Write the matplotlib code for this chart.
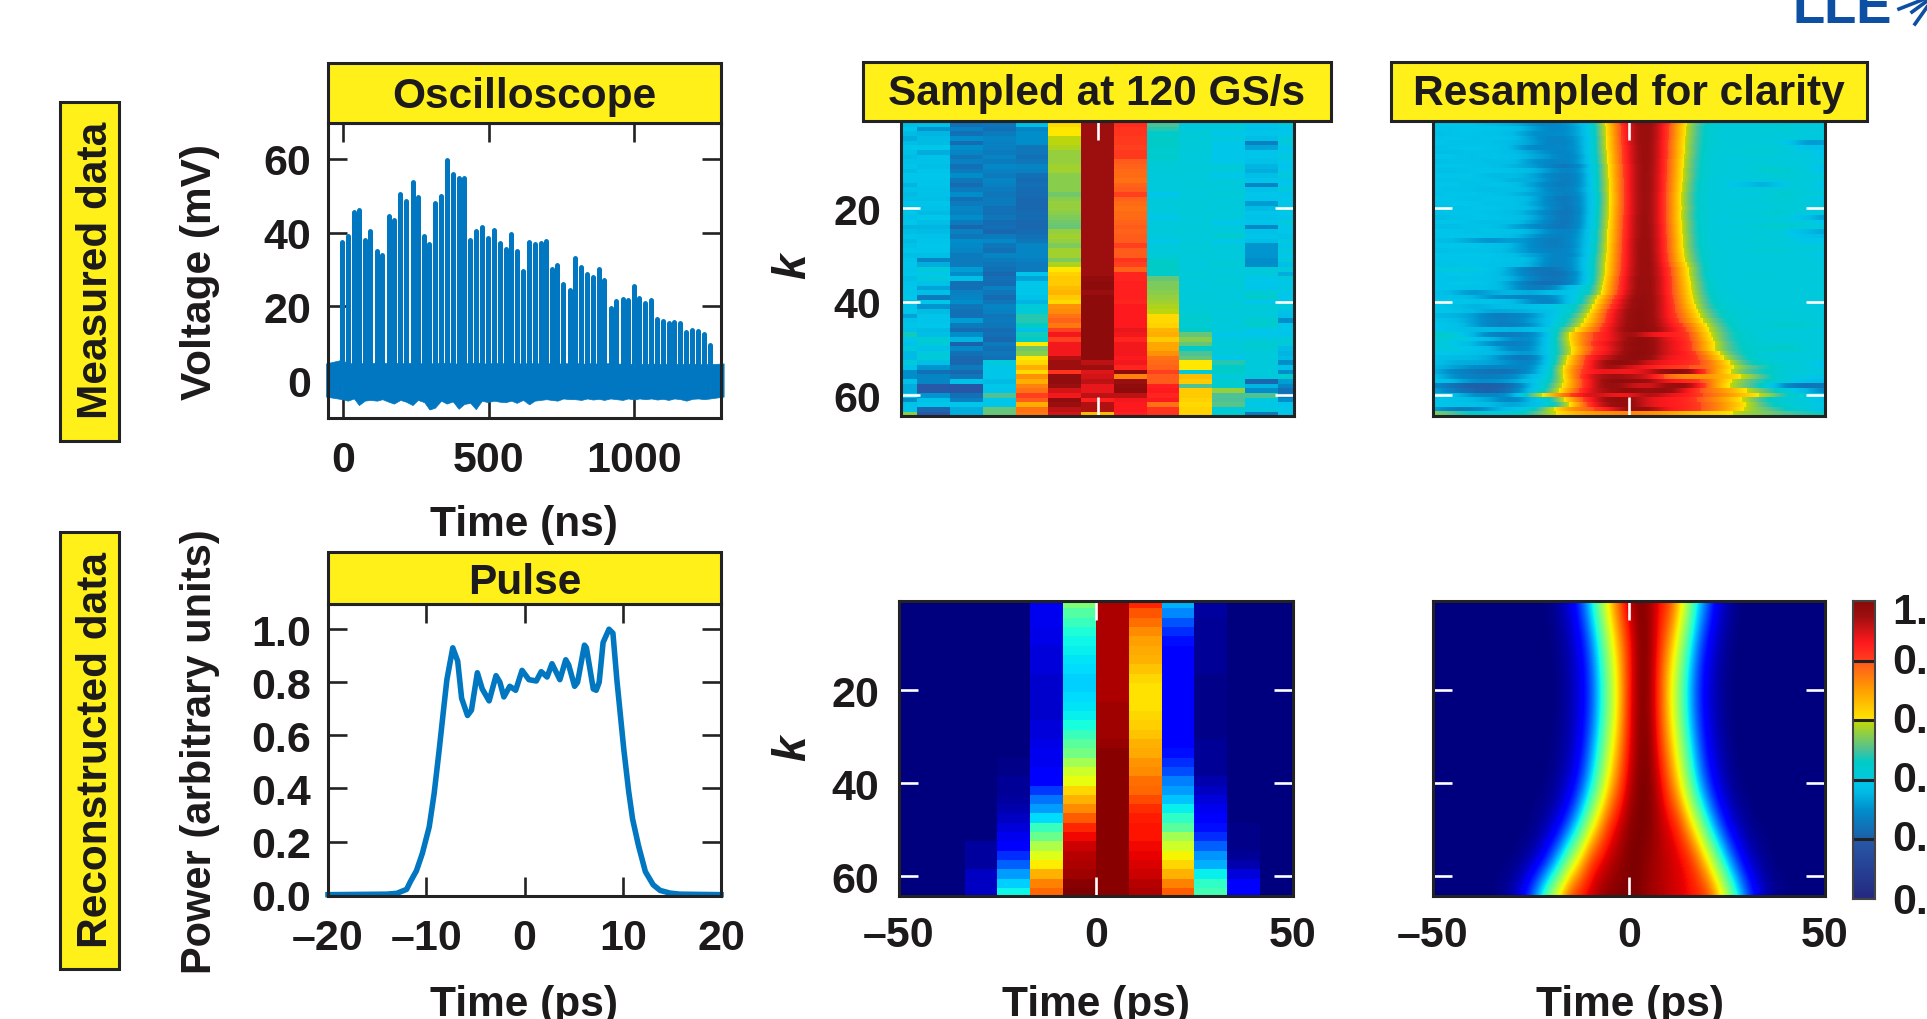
import matplotlib
matplotlib.use("Agg")
import matplotlib.pyplot as plt
from matplotlib.colors import LinearSegmentedColormap
from matplotlib.patches import Rectangle
from matplotlib.lines import Line2D
import numpy as np

W, H = 1927, 1020
plt.rcParams['font.family'] = ['Liberation Sans', 'DejaVu Sans']
plt.rcParams['font.weight'] = 'bold'
plt.rcParams['font.size'] = 30.5

# oscilloscope trace, one peak per k
spike_times = [-3, 17, 38, 55, 75, 93, 117, 135, 157, 175,
               197, 217, 239, 257, 279, 297, 316, 337, 356, 377,
               397, 416, 437, 456, 477, 497, 519, 539, 558, 578,
               596, 618, 639, 658, 678, 698, 716, 736, 756, 778,
               796, 818, 838, 858, 878, 896, 918, 938, 960, 978,
               1000, 1017, 1038, 1058, 1078, 1097, 1117, 1137, 1158, 1178,
               1199, 1219, 1239, 1259]
spike_peaks = [37.5, 39, 45.5, 46, 38, 40.5, 35, 34, 44.5, 43.5,
               50.5, 48.5, 53.8, 49.5, 39, 36.8, 48, 49.8, 59.7, 55.8,
               54.7, 54.8, 37.9, 40.3, 41.4, 38.4, 40.8, 37.2, 35.5, 39.7,
               35, 29.5, 37.5, 36.9, 37.2, 37.7, 30, 31.1, 26, 24.4,
               33, 30.6, 28.7, 28, 30, 27, 19.4, 21.5, 22, 21.6,
               25.6, 22.3, 21, 21.7, 16.5, 16, 15.5, 15.7, 15.5, 13,
               13.5, 13.2, 12.6, 9.5]
band_low = [-5.2, -5.6, -5.0, -6.8, -5.6, -5.4, -5.6, -5.2, -5.9, -6.4,
            -5.4, -5.9, -6.8, -5.4, -6.0, -8.0, -7.5, -5.6, -6.4, -5.8,
            -7.8, -6.5, -6.2, -7.9, -5.6, -6.0, -5.6, -5.9, -6.0, -5.6,
            -6.2, -5.4, -6.6, -5.6, -5.4, -5.2, -5.4, -5.6, -5.0, -5.2,
            -5.2, -5.4, -5.0, -5.3, -5.1, -5.4, -5.0, -5.2, -5.4, -5.0,
            -5.3, -5.0, -5.2, -5.0, -5.3, -5.1, -5.4, -5.0, -5.2, -5.6,
            -5.1, -5.0, -5.2, -5.0]
band_high = [5.5, 4.5, 4.6, 4.8, 4.4, 4.7, 4.5, 4.8, 4.4, 4.6,
             4.7, 4.4, 4.8, 4.5, 4.6, 4.4, 4.7, 4.5, 4.8, 4.6,
             4.4, 4.7, 4.5, 4.8, 4.6, 4.4, 4.7, 4.5, 4.6, 4.8,
             4.4, 4.6, 4.5, 4.7, 4.4, 4.6, 4.5, 4.4, 4.6, 4.5,
             4.7, 4.4, 4.5, 4.6, 4.4, 4.5, 4.6, 4.4, 4.5, 4.3,
             4.5, 4.4, 4.3, 4.5, 4.4, 4.3, 4.5, 4.4, 4.3, 4.4,
             4.5, 4.2, 4.4, 4.3]

# reconstructed pulse
pulse_t = [-20, -14, -13, -12, -11.6, -11, -10.4, -9.7, -9.2, -8.7, -8.2, -7.9, -7.3, -6.8,
           -6.4, -5.8, -5.4, -4.8, -4.3, -3.6, -2.9, -2.5, -2.1, -1.5, -0.9, -0.25, 0.45,
           1.2, 1.7, 2.3, 2.8, 3.6, 4.2, 4.5, 5.1, 5.4, 6.1, 6.3, 7, 7.3, 7.6, 8, 8.6, 9,
           9.4, 10.1, 10.6, 11, 11.6, 12.3, 13.1, 13.8, 14.8, 15.8, 20]
pulse_p = [0, 0.002, 0.005, 0.02, 0.05, 0.09, 0.155, 0.255, 0.38, 0.54, 0.71, 0.81, 0.93, 0.88,
           0.74, 0.675, 0.695, 0.836, 0.775, 0.73, 0.825, 0.80, 0.745, 0.785, 0.77, 0.845, 0.81,
           0.805, 0.84, 0.82, 0.87, 0.81, 0.885, 0.865, 0.785, 0.80, 0.94, 0.93, 0.775, 0.77, 0.80, 0.95, 1.0, 0.985,
           0.81, 0.55, 0.39, 0.285, 0.185, 0.087, 0.037, 0.016, 0.006, 0.002, 0]

# measured, 120 GS/s: rows k=1..64, percent
sampled_t = [-50, -41.67, -33.33, -25, -16.67, -8.33, 0, 8.33, 16.67, 25, 33.33, 41.67, 50]
sampled = [
    [39, 40, 26, 27, 39, 62, 95, 83, 50, 41, 41, 39, 40],
    [37, 38, 24, 25, 37, 62, 95, 83, 50, 41, 41, 39, 41],
    [40, 31, 27, 24, 28, 60, 95, 82, 48, 41, 41, 38, 39],
    [36, 35, 24, 26, 30, 60, 95, 82, 45, 42, 40, 39, 40],
    [34, 36, 30, 28, 30, 59, 95, 81, 46, 42, 41, 37, 41],
    [37, 36, 23, 27, 30, 59, 95, 81, 46, 42, 40, 27, 41],
    [40, 40, 30, 27, 25, 58, 95, 80, 45, 42, 40, 33, 39],
    [38, 34, 28, 26, 25, 56, 95, 81, 44, 41, 40, 39, 40],
    [36, 38, 25, 28, 24, 56, 95, 81, 45, 41, 40, 39, 41],
    [38, 38, 27, 26, 25, 56, 95, 79, 43, 41, 40, 38, 40],
    [39, 37, 24, 29, 28, 57, 95, 78, 42, 42, 42, 35, 39],
    [36, 39, 26, 27, 27, 57, 95, 77, 42, 41, 41, 34, 40],
    [40, 40, 30, 26, 24, 55, 95, 77, 41, 41, 40, 37, 41],
    [39, 39, 25, 28, 23, 55, 95, 76, 41, 41, 41, 39, 39],
    [35, 39, 23, 27, 24, 55, 95, 78, 41, 42, 41, 28, 40],
    [38, 38, 26, 26, 23, 55, 95, 79, 41, 41, 41, 38, 41],
    [36, 38, 30, 25, 23, 53, 95, 80, 40, 41, 42, 40, 39],
    [37, 37, 24, 26, 22, 55, 95, 78, 41, 41, 41, 39, 40],
    [39, 39, 26, 26, 22, 56, 95, 77, 41, 42, 41, 32, 40],
    [37, 38, 28, 24, 22, 56, 95, 76, 41, 41, 41, 36, 41],
    [40, 36, 27, 24, 23, 55, 95, 77, 41, 42, 41, 39, 40],
    [38, 40, 30, 25, 23, 54, 95, 77, 40, 41, 41, 38, 39],
    [40, 37, 26, 23, 22, 53, 95, 78, 41, 41, 40, 39, 41],
    [35, 35, 22, 24, 22, 52, 95, 79, 41, 42, 41, 29, 40],
    [37, 36, 27, 22, 23, 56, 95, 78, 41, 41, 41, 38, 40],
    [39, 38, 25, 26, 24, 57, 95, 79, 41, 41, 44, 39, 38],
    [36, 39, 30, 29, 25, 56, 95, 79, 40, 41, 40, 37, 41],
    [38, 40, 29, 25, 28, 54, 95, 80, 41, 42, 41, 31, 39],
    [40, 39, 28, 24, 28, 57, 95, 79, 41, 42, 41, 31, 41],
    [37, 37, 26, 28, 28, 57, 95, 79, 42, 41, 41, 31, 40],
    [39, 28, 26, 26, 27, 54, 95, 82, 45, 41, 41, 30, 41],
    [40, 34, 26, 25, 26, 58, 95, 80, 46, 41, 43, 30, 37],
    [39, 41, 32, 24, 26, 60, 95, 78, 46, 41, 41, 41, 41],
    [40, 40, 30, 22, 39, 63, 95, 84, 45, 42, 41, 41, 34],
    [37, 41, 37, 24, 33, 64, 98, 84, 52, 41, 42, 40, 41],
    [39, 38, 24, 23, 40, 64, 99, 85, 54, 41, 42, 40, 40],
    [40, 33, 24, 27, 40, 66, 99, 85, 54, 41, 41, 39, 41],
    [39, 37, 27, 25, 40, 67, 96, 85, 55, 41, 41, 43, 40],
    [40, 26, 28, 23, 38, 64, 99, 85, 56, 42, 41, 44, 40],
    [36, 40, 30, 25, 35, 62, 99, 84, 57, 41, 41, 40, 39],
    [39, 31, 25, 28, 42, 72, 99, 86, 58, 42, 42, 42, 41],
    [40, 36, 24, 27, 42, 73, 99, 86, 59, 42, 41, 41, 38],
    [33, 39, 24, 25, 48, 76, 99, 86, 62, 44, 41, 41, 37],
    [38, 39, 32, 26, 48, 78, 99, 86, 62, 44, 41, 44, 30],
    [39, 40, 26, 25, 46, 75, 99, 86, 63, 43, 41, 44, 40],
    [38, 36, 23, 23, 38, 80, 99, 88, 67, 46, 41, 40, 40],
    [47, 37, 30, 24, 47, 87, 99, 87, 68, 52, 40, 40, 39],
    [40, 43, 35, 22, 45, 80, 99, 84, 64, 55, 41, 41, 42],
    [38, 42, 21, 26, 60, 87, 99, 87, 69, 52, 42, 44, 41],
    [41, 38, 29, 24, 53, 87, 99, 87, 69, 46, 41, 43, 36],
    [36, 41, 24, 25, 55, 87, 99, 87, 72, 50, 41, 41, 35],
    [36, 42, 22, 24, 60, 93, 99, 86, 76, 52, 40, 41, 36],
    [41, 37, 22, 41, 62, 95, 92, 87, 77, 60, 48, 41, 30],
    [38, 31, 26, 40, 68, 95, 95, 84, 78, 60, 45, 41, 38],
    [30, 24, 22, 40, 62, 82, 89, 99, 80, 41, 46, 41, 30],
    [30, 28, 25, 40, 72, 98, 90, 74, 79, 66, 41, 41, 44],
    [38, 28, 38, 36, 68, 98, 92, 96, 79, 64, 44, 22, 32],
    [34, 20, 19, 40, 74, 96, 88, 98, 85, 50, 44, 35, 28],
    [34, 20, 19, 39, 76, 90, 88, 99, 86, 64, 56, 30, 24],
    [40, 31, 24, 50, 80, 87, 92, 92, 84, 64, 50, 50, 26],
    [30, 38, 27, 40, 79, 98, 85, 87, 86, 63, 50, 41, 30],
    [38, 40, 40, 40, 68, 96, 93, 86, 76, 62, 51, 40, 39],
    [39, 22, 34, 52, 76, 92, 93, 86, 82, 63, 42, 41, 40],
    [55, 20, 34, 52, 75, 90, 66, 85, 82, 63, 44, 26, 40],
]

# measured, resampled: rows k=1..64, percent
resampled_t = [-50, -45, -40, -35, -30, -25, -20, -15, -10, -5, 0, 5, 10, 15, 20, 25, 30, 35, 40, 45, 50]
resampled = [
    [40, 40, 39, 38, 33, 28, 29, 32, 39, 66, 92, 100, 83, 58, 44, 42, 43, 44, 45, 41, 40],
    [39, 40, 40, 36, 35, 31, 27, 31, 39, 66, 92, 100, 83, 57, 44, 42, 42, 43, 44, 41, 41],
    [39, 38, 40, 39, 38, 33, 28, 30, 38, 65, 91, 100, 82, 56, 43, 42, 41, 42, 43, 41, 40],
    [36, 39, 39, 38, 37, 30, 29, 30, 38, 65, 91, 100, 82, 56, 43, 41, 42, 41, 42, 40, 41],
    [38, 40, 38, 39, 38, 32, 27, 29, 37, 64, 91, 100, 82, 55, 43, 41, 42, 41, 41, 41, 41],
    [40, 38, 38, 38, 36, 33, 27, 28, 38, 64, 91, 100, 81, 55, 43, 42, 41, 41, 41, 30, 33],
    [37, 39, 39, 39, 36, 28, 29, 28, 37, 64, 90, 100, 81, 54, 43, 41, 42, 43, 42, 38, 38],
    [38, 36, 39, 38, 37, 33, 29, 27, 38, 63, 90, 100, 81, 55, 42, 42, 42, 43, 41, 40, 40],
    [40, 39, 37, 39, 38, 34, 31, 26, 37, 62, 90, 100, 81, 54, 42, 41, 41, 42, 40, 41, 39],
    [37, 38, 39, 36, 38, 31, 28, 27, 37, 62, 90, 100, 80, 53, 42, 41, 42, 41, 41, 40, 41],
    [39, 40, 38, 38, 35, 33, 27, 24, 35, 61, 89, 100, 80, 53, 42, 41, 41, 44, 41, 41, 38],
    [38, 37, 39, 39, 38, 36, 31, 26, 36, 61, 89, 100, 80, 52, 42, 42, 41, 45, 44, 41, 39],
    [40, 39, 40, 35, 37, 34, 28, 25, 35, 61, 89, 100, 79, 53, 41, 41, 41, 41, 44, 41, 40],
    [38, 38, 39, 38, 34, 35, 29, 24, 36, 60, 89, 100, 79, 52, 41, 41, 41, 40, 42, 41, 41],
    [39, 40, 37, 39, 38, 33, 27, 25, 35, 60, 89, 100, 79, 51, 41, 41, 37, 33, 41, 41, 39],
    [39, 38, 38, 36, 38, 35, 28, 26, 36, 60, 89, 100, 79, 51, 41, 41, 41, 41, 44, 41, 40],
    [37, 40, 39, 38, 36, 33, 30, 25, 35, 59, 89, 100, 78, 50, 41, 41, 40, 41, 45, 41, 41],
    [40, 39, 38, 39, 38, 36, 27, 24, 35, 59, 89, 100, 78, 50, 41, 41, 41, 42, 44, 40, 40],
    [38, 40, 40, 37, 39, 34, 28, 24, 35, 59, 89, 100, 78, 50, 41, 41, 42, 41, 43, 41, 41],
    [39, 38, 39, 39, 38, 36, 29, 23, 35, 60, 89, 100, 78, 51, 41, 41, 41, 41, 42, 41, 40],
    [38, 39, 40, 38, 37, 33, 27, 23, 35, 60, 89, 100, 78, 50, 41, 41, 42, 43, 44, 40, 41],
    [35, 38, 39, 39, 38, 35, 28, 23, 36, 60, 90, 100, 78, 50, 41, 41, 41, 41, 41, 38, 31],
    [39, 40, 38, 36, 38, 33, 27, 23, 36, 61, 90, 100, 78, 51, 41, 40, 41, 42, 42, 41, 39],
    [38, 36, 39, 38, 34, 30, 26, 24, 36, 61, 90, 100, 79, 51, 41, 41, 42, 44, 45, 41, 41],
    [40, 39, 38, 39, 38, 35, 29, 26, 37, 62, 90, 100, 79, 51, 41, 41, 41, 41, 41, 36, 33],
    [39, 40, 39, 38, 37, 32, 27, 27, 37, 62, 90, 100, 79, 52, 41, 41, 41, 41, 41, 38, 36],
    [38, 36, 33, 30, 33, 30, 25, 28, 37, 62, 91, 100, 80, 52, 41, 41, 42, 43, 41, 39, 40],
    [39, 40, 39, 38, 36, 29, 26, 27, 38, 63, 91, 100, 80, 52, 41, 41, 41, 41, 41, 41, 40],
    [37, 38, 38, 38, 35, 30, 27, 28, 38, 63, 91, 100, 80, 53, 42, 41, 42, 44, 42, 41, 41],
    [40, 39, 40, 39, 37, 33, 29, 26, 39, 64, 91, 100, 81, 54, 42, 41, 41, 41, 41, 40, 40],
    [38, 40, 39, 39, 38, 36, 27, 28, 40, 64, 91, 100, 81, 55, 42, 41, 41, 42, 41, 41, 41],
    [39, 38, 40, 38, 38, 35, 27, 28, 40, 65, 91, 100, 82, 58, 42, 41, 41, 41, 41, 41, 40],
    [40, 41, 41, 39, 33, 25, 24, 28, 40, 65, 92, 99, 84, 60, 42, 41, 41, 41, 41, 41, 41],
    [39, 40, 40, 38, 33, 26, 24, 25, 40, 66, 92, 99, 84, 60, 42, 41, 42, 42, 41, 41, 40],
    [40, 38, 39, 38, 35, 28, 24, 26, 40, 68, 93, 99, 85, 61, 43, 41, 41, 42, 41, 41, 41],
    [39, 40, 40, 38, 32, 24, 23, 26, 41, 69, 93, 99, 85, 62, 44, 41, 41, 41, 41, 41, 41],
    [40, 39, 38, 38, 33, 25, 27, 38, 42, 70, 93, 99, 85, 63, 44, 41, 41, 41, 41, 41, 40],
    [38, 36, 30, 34, 36, 33, 37, 38, 44, 71, 94, 99, 85, 64, 45, 41, 42, 41, 41, 41, 41],
    [38, 38, 36, 30, 29, 27, 28, 38, 50, 75, 95, 99, 86, 65, 46, 42, 41, 41, 41, 41, 41],
    [40, 40, 38, 39, 37, 30, 26, 38, 52, 78, 96, 99, 86, 66, 47, 42, 41, 41, 41, 41, 41],
    [40, 38, 34, 36, 37, 37, 40, 42, 55, 81, 96, 99, 86, 68, 48, 43, 41, 41, 41, 41, 40],
    [40, 39, 36, 33, 34, 35, 38, 42, 58, 84, 97, 99, 86, 70, 50, 44, 42, 42, 43, 41, 40],
    [36, 35, 33, 26, 27, 30, 38, 45, 62, 85, 97, 99, 86, 72, 52, 44, 42, 42, 41, 41, 41],
    [39, 37, 33, 27, 27, 32, 38, 48, 64, 86, 97, 99, 87, 74, 55, 45, 42, 42, 43, 42, 41],
    [40, 39, 33, 27, 26, 30, 38, 50, 68, 87, 97, 99, 88, 78, 58, 46, 42, 43, 46, 45, 41],
    [40, 38, 36, 36, 35, 36, 40, 56, 72, 88, 98, 99, 90, 80, 60, 47, 43, 42, 41, 41, 41],
    [47, 42, 36, 27, 26, 28, 38, 62, 80, 86, 98, 88, 85, 84, 62, 48, 44, 41, 41, 41, 41],
    [42, 42, 40, 36, 30, 28, 40, 62, 80, 86, 97, 99, 87, 84, 64, 48, 44, 42, 41, 41, 41],
    [42, 40, 36, 30, 26, 28, 40, 60, 82, 88, 98, 99, 88, 85, 66, 50, 44, 42, 44, 41, 41],
    [40, 41, 39, 36, 28, 29, 41, 58, 80, 87, 98, 99, 88, 85, 66, 50, 45, 44, 47, 42, 40],
    [40, 40, 38, 36, 33, 30, 40, 58, 82, 88, 99, 99, 88, 86, 72, 52, 45, 42, 41, 41, 41],
    [38, 36, 36, 34, 26, 24, 40, 64, 86, 92, 99, 98, 86, 86, 75, 56, 46, 42, 41, 41, 41],
    [38, 34, 34, 33, 30, 26, 40, 66, 86, 98, 99, 90, 86, 84, 78, 62, 47, 44, 42, 41, 39],
    [36, 33, 30, 28, 28, 28, 42, 70, 86, 98, 90, 86, 82, 80, 78, 64, 52, 47, 43, 41, 39],
    [36, 28, 26, 24, 24, 30, 42, 72, 87, 88, 86, 90, 99, 99, 78, 62, 50, 46, 42, 41, 41],
    [38, 30, 27, 26, 28, 36, 42, 70, 90, 96, 94, 90, 76, 72, 72, 66, 58, 48, 42, 40, 39],
    [40, 36, 30, 30, 32, 38, 44, 68, 88, 99, 98, 96, 86, 84, 78, 62, 52, 46, 41, 38, 36],
    [30, 24, 20, 20, 22, 36, 48, 68, 88, 99, 92, 88, 97, 97, 78, 60, 52, 44, 28, 24, 26],
    [34, 26, 22, 20, 24, 38, 50, 72, 90, 95, 99, 95, 99, 86, 76, 70, 60, 50, 42, 36, 28],
    [40, 38, 30, 28, 30, 52, 66, 80, 92, 88, 86, 96, 88, 86, 78, 72, 64, 58, 46, 42, 38],
    [40, 38, 36, 33, 26, 36, 44, 68, 86, 98, 98, 88, 86, 84, 76, 68, 58, 46, 42, 41, 38],
    [40, 39, 38, 36, 32, 36, 42, 60, 84, 96, 99, 88, 86, 84, 78, 70, 60, 48, 43, 41, 40],
    [34, 26, 26, 33, 38, 42, 58, 72, 78, 86, 98, 97, 86, 84, 78, 70, 58, 52, 46, 41, 38],
    [55, 50, 45, 42, 42, 48, 58, 66, 70, 72, 74, 72, 70, 66, 64, 62, 56, 54, 50, 48, 46],
]

# reconstructed, 120 GS/s: rows k=1,3,..,63, percent
recon_t = [-45.83, -37.5, -29.17, -20.83, -12.5, -4.17, 4.17, 12.5, 20.83, 29.17, 37.5, 45.83]
recon = [
    [0, 0, 0, 0, 10, 50, 96, 87, 30, 3, 0, 0],
    [0, 0, 0, 0, 10, 45, 96, 82, 26, 3, 0, 0],
    [0, 0, 0, 0, 10, 42, 96, 79, 21, 2, 0, 0],
    [0, 0, 0, 0, 9, 39, 96, 76, 17, 2, 0, 0],
    [0, 0, 0, 0, 9, 37, 96, 74, 14, 2, 0, 0],
    [0, 0, 0, 0, 8, 36, 96, 73, 12, 2, 0, 0],
    [0, 0, 0, 0, 8, 35, 96, 72, 11, 2, 0, 0],
    [0, 0, 0, 0, 8, 34, 96, 70, 11, 2, 0, 0],
    [0, 0, 0, 0, 7, 33, 96, 68, 11, 1, 0, 0],
    [0, 0, 0, 0, 7, 33, 96, 67, 11, 1, 0, 0],
    [0, 0, 0, 0, 7, 34, 96, 67, 11, 1, 0, 0],
    [0, 0, 0, 0, 7, 35, 97, 67, 11, 1, 0, 0],
    [0, 0, 0, 0, 7, 36, 97, 68, 11, 1, 0, 0],
    [0, 0, 0, 0, 8, 38, 97, 69, 11, 1, 0, 0],
    [0, 0, 0, 0, 8, 42, 97, 70, 11, 1, 0, 0],
    [0, 0, 0, 0, 9, 46, 98, 72, 12, 2, 0, 0],
    [0, 0, 0, 0, 10, 49, 99, 73, 14, 2, 0, 0],
    [0, 0, 0, 1, 10, 55, 99, 75, 17, 2, 0, 0],
    [0, 0, 0, 1, 11, 60, 99, 76, 20, 2, 0, 0],
    [0, 0, 0, 2, 12, 63, 99, 79, 25, 4, 0, 0],
    [0, 0, 0, 2, 18, 68, 99, 80, 28, 6, 0, 0],
    [0, 0, 0, 3, 24, 72, 99, 83, 32, 8, 0, 0],
    [0, 0, 0, 4, 28, 76, 99, 86, 36, 10, 0, 0],
    [0, 0, 0, 6, 34, 81, 99, 88, 41, 11, 0, 0],
    [0, 0, 0, 8, 42, 87, 99, 89, 46, 14, 1, 0],
    [0, 0, 0, 10, 48, 90, 99, 89, 55, 17, 1, 0],
    [0, 0, 3, 11, 56, 93, 99, 90, 60, 22, 1, 0],
    [0, 0, 3, 17, 62, 95, 99, 91, 65, 27, 2, 0],
    [0, 0, 3, 22, 66, 96, 99, 92, 68, 30, 4, 0],
    [0, 0, 6, 28, 72, 97, 99, 93, 72, 36, 8, 0],
    [0, 0, 6, 33, 77, 99, 99, 95, 77, 41, 11, 0],
    [0, 0, 6, 37, 80, 100, 99, 96, 81, 43, 11, 0],
]

# reconstructed, resampled: profile at every 2.5 ps for k=1,9,..,65, percent
smooth_k = [1, 9, 17, 25, 33, 41, 49, 57, 65]
smooth_t = [-50, -47.5, -45, -42.5, -40, -37.5, -35, -32.5, -30, -27.5, -25, -22.5, -20, -17.5, -15, -12.5, -10, -7.5, -5, -2.5,
            0, 2.5, 5, 7.5, 10, 12.5, 15, 17.5, 20, 22.5, 25, 27.5, 30, 32.5, 35, 37.5, 40, 42.5, 45, 47.5, 50]
smooth = [
    [0, 0, 0, 0, 0, 0, 0, 0, 0, 0, 0, 0, 1, 4, 9, 19, 34, 52, 69, 82, 95, 100, 98, 90, 86, 73, 57, 37, 24, 10, 5, 1, 0, 0, 0, 0, 0, 0, 0, 0, 0],
    [0, 0, 0, 0, 0, 0, 0, 0, 0, 0, 0, 0, 0, 2, 5, 11, 23, 40, 59, 74, 87, 99, 99, 89, 77, 63, 44, 26, 13, 6, 2, 0, 0, 0, 0, 0, 0, 0, 0, 0, 0],
    [0, 0, 0, 0, 0, 0, 0, 0, 0, 0, 0, 0, 0, 1, 4, 9, 18, 34, 53, 69, 87, 99, 99, 86, 70, 54, 35, 19, 9, 4, 1, 0, 0, 0, 0, 0, 0, 0, 0, 0, 0],
    [0, 0, 0, 0, 0, 0, 0, 0, 0, 0, 0, 0, 0, 1, 4, 9, 18, 34, 53, 69, 88, 99, 99, 86, 70, 54, 35, 19, 9, 4, 1, 0, 0, 0, 0, 0, 0, 0, 0, 0, 0],
    [0, 0, 0, 0, 0, 0, 0, 0, 0, 0, 0, 0, 0, 2, 5, 11, 24, 41, 60, 75, 90, 99, 100, 89, 76, 61, 43, 25, 12, 6, 2, 0, 0, 0, 0, 0, 0, 0, 0, 0, 0],
    [0, 0, 0, 0, 0, 0, 0, 0, 0, 0, 0, 0, 1, 4, 8, 18, 33, 52, 69, 82, 94, 100, 100, 94, 83, 70, 53, 34, 19, 9, 4, 1, 0, 0, 0, 0, 0, 0, 0, 0, 0],
    [0, 0, 0, 0, 0, 0, 0, 0, 0, 0, 0, 2, 5, 10, 22, 38, 58, 73, 86, 93, 99, 100, 100, 96, 92, 87, 74, 59, 40, 23, 11, 5, 2, 0, 0, 0, 0, 0, 0, 0, 0],
    [0, 0, 0, 0, 0, 0, 0, 0, 0, 1, 4, 9, 20, 37, 56, 71, 85, 91, 95, 98, 100, 100, 98, 96, 94, 92, 90, 82, 69, 52, 33, 18, 8, 4, 1, 0, 0, 0, 0, 0, 0],
    [0, 0, 0, 0, 0, 0, 0, 2, 5, 12, 24, 42, 61, 75, 88, 91, 94, 98, 100, 100, 100, 100, 97, 96, 94, 92, 90, 89, 87, 77, 63, 44, 26, 13, 6, 2, 1, 0, 0, 0, 0],
]

colorbar_ticks = [0.0, 0.2, 0.4, 0.6, 0.8, 1.0]
time_ticks = [-50, 0, 50]
k_ticks = [20, 40, 60]

# measured data colour scale, with jumps at the colorbar divisions
measured_cmap = LinearSegmentedColormap('measured', {
    'red': [(0, 0.14, 0.14), (0.2, 0.16, 0.12), (0.3, 0.0, 0.0), (0.36, 0.0, 0.0), (0.4, 0.0, 0.0), (0.46, 0.0, 0.0), (0.5, 0.30, 0.30),
            (0.6, 0.78, 1.0), (0.7, 1.0, 1.0), (0.8, 1.0, 1.0), (0.86, 1.0, 1.0), (0.95, 0.62, 0.62), (1, 0.54, 0.54)],
    'green': [(0, 0.16, 0.16), (0.2, 0.35, 0.37), (0.3, 0.56, 0.56), (0.36, 0.74, 0.74), (0.4, 0.78, 0.79), (0.46, 0.80, 0.80), (0.5, 0.76, 0.76),
              (0.6, 0.85, 0.91), (0.7, 0.63, 0.63), (0.8, 0.33, 0.25), (0.86, 0.10, 0.10), (0.95, 0.06, 0.06), (1, 0.04, 0.04)],
    'blue': [(0, 0.5, 0.5), (0.2, 0.66, 0.66), (0.3, 0.8, 0.8), (0.36, 0.90, 0.90), (0.4, 0.92, 0.88), (0.46, 0.78, 0.78), (0.5, 0.60, 0.60),
             (0.6, 0.0, 0.0), (0.7, 0.0, 0.0), (0.8, 0.12, 0.12), (0.86, 0.12, 0.12), (0.95, 0.06, 0.06), (1, 0.04, 0.04)],
}, N=512)


def box(x0, y0, x1, y1):
    return [x0 / W, 1 - y1 / H, (x1 - x0) / W, (y1 - y0) / H]


def label_box(fig, x0, y0, x1, y1, text, rotation=0, dx=0, dy=0):
    fig.add_artist(Rectangle((x0 / W, 1 - y1 / H), (x1 - x0) / W, (y1 - y0) / H,
                             transform=fig.transFigure, fc='#fff01a', ec='#222222', lw=2.2, zorder=5))
    fig.text(((x0 + x1) / 2 + dx) / W, 1 - ((y0 + y1) / 2 + dy) / H, text, ha='center', va='center',
             rotation=rotation, color='#1c1a1a', zorder=6)


def setup_line_axes(ax):
    ax.tick_params(direction='in', length=14, width=1.9, color='#222222', top=True, right=True,
                   labelsize=31, labelcolor='#1c1a1a')
    for s in ax.spines.values():
        s.set_linewidth(2.2)
        s.set_color('#222222')


def setup_map_axes(ax, ylim, bottom_labels):
    ax.set_xlim(-50, 50)
    ax.set_ylim(*ylim)
    ax.set_xticks(time_ticks)
    ax.set_yticks(k_ticks)
    ax.tick_params(direction='in', length=14, width=1.9, color='white', top=True, right=True,
                   labelsize=31, labelcolor='#1c1a1a', pad=14)
    ax.set_xticklabels(['\u201350', '0', '50'] if bottom_labels else [])
    # the ticks at the plot edges are not drawn
    for i in (0, 2):
        t = ax.xaxis.get_major_ticks()[i]
        t.tick1line.set_visible(False)
        t.tick2line.set_visible(False)
    for s in ax.spines.values():
        s.set_linewidth(2.2)
        s.set_color('#222222')


fig = plt.figure(figsize=(W / 100, H / 100), dpi=100)

# oscilloscope
ax = fig.add_axes(box(328, 124, 721, 419))
ax.fill_between(spike_times, band_low, band_high, color='#0077c0', lw=0.5, clip_on=False, zorder=2)
ax.fill_between([-58, -3], [-4.5, band_low[0]], [4.5, band_high[0]], color='#0077c0', lw=0.5, clip_on=False, zorder=2)
ax.fill_between([1259, 1306], [band_low[-1], -4.5], [band_high[-1], 4.5], color='#0077c0', lw=0.5, clip_on=False, zorder=2)
ax.vlines(spike_times, 0, spike_peaks, color='#0077c0', lw=3.6, capstyle='round', zorder=2)
ax.set_xlim(-51, 1297)
ax.set_ylim(-10.3, 69.7)
ax.set_xticks([0, 500, 1000])
ax.set_yticks([0, 20, 40, 60])
setup_line_axes(ax)
ax.tick_params(axis='x', pad=16)
ax.tick_params(axis='y', pad=12)

# pulse
ax = fig.add_axes(box(328, 605, 721, 897))
ax.plot(pulse_t, pulse_p, color='#0077c0', lw=4, clip_on=False, solid_joinstyle='round', zorder=2)
ax.set_xlim(-20, 20)
ax.set_ylim(-0.005, 1.095)
ax.set_xticks([-20, -10, 0, 10, 20])
ax.set_xticklabels(['\u201320', '\u201310', '0', '10', '20'])
ax.set_yticks([0, 0.2, 0.4, 0.6, 0.8, 1.0])
setup_line_axes(ax)
ax.tick_params(axis='x', pad=16)
ax.tick_params(axis='y', pad=12)

# measured maps
ax = fig.add_axes(box(901, 122, 1294, 417))
ax.imshow(np.array(sampled) / 100, cmap=measured_cmap, vmin=0, vmax=1, aspect='auto', interpolation='nearest',
          extent=(sampled_t[0] - 4.165, sampled_t[-1] + 4.165, len(sampled) + 0.5, 0.5))
setup_map_axes(ax, (64.4, 1.3), False)

ax = fig.add_axes(box(1433, 122, 1825, 417))
for i, row in enumerate(resampled):
    ax.imshow(np.array([row]) / 100, cmap=measured_cmap, vmin=0, vmax=1, aspect='auto', interpolation='bicubic',
              extent=(resampled_t[0] - 2.5, resampled_t[-1] + 2.5, i + 1.5, i + 0.5))
setup_map_axes(ax, (64.4, 1.3), False)
ax.set_yticklabels([])

# reconstructed maps
ax = fig.add_axes(box(899, 602, 1293, 897))
ax.imshow(np.array(recon) / 100, cmap='jet', vmin=0, vmax=1, aspect='auto', interpolation='nearest',
          extent=(-50, 50, 64.5, 0.5))
setup_map_axes(ax, (64.2, 0.9), True)

ax = fig.add_axes(box(1433, 602, 1825, 897))
ax.imshow(np.array(smooth) / 100, cmap='jet', vmin=0, vmax=1, aspect='auto', interpolation='bicubic',
          extent=(smooth_t[0] - 1.25, smooth_t[-1] + 1.25, smooth_k[-1] + 4, smooth_k[0] - 4))
setup_map_axes(ax, (64.2, 0.9), True)
ax.set_yticklabels([])

# colorbar
cax = fig.add_axes(box(1853, 602, 1875, 900))
cax.imshow(np.linspace(1, 0, 512)[:, None], cmap=measured_cmap, vmin=0, vmax=1, aspect='auto', extent=(0, 1, 0, 1))
for v in colorbar_ticks[1:-1]:
    cax.axhline(v, color='#222222', lw=2.2)
cax.set_xticks([])
cax.set_yticks([])
for s in cax.spines.values():
    s.set_linewidth(1.5)
    s.set_color('#444444')
for v, y in zip(colorbar_ticks, [903, 840, 781, 722, 663, 613]):
    fig.text(1892 / W, 1 - y / H, '%.1f' % v, ha='left', va='center', fontsize=31, color='#1c1a1a')

# yellow labels
label_box(fig, 328, 64, 721, 124, 'Oscilloscope', dy=3)
label_box(fig, 863, 63, 1331, 122, 'Sampled at 120 GS/s', dy=1)
label_box(fig, 1391, 63, 1867, 122, 'Resampled for clarity', dy=1)
label_box(fig, 328, 553, 721, 605, 'Pulse', dy=4)
label_box(fig, 60, 103, 119, 442, 'Measured data', rotation=90, dx=7, dy=-2)
label_box(fig, 60, 533, 119, 970, 'Reconstructed data', rotation=90, dx=7, dy=-2)

# axis titles
fig.text(200 / W, 1 - 272 / H, 'Voltage (mV)', rotation=90, ha='center', va='center', color='#1c1a1a')
fig.text(200 / W, 1 - 752 / H, 'Power (arbitrary units)', rotation=90, fontsize=30, ha='center', va='center', color='#1c1a1a')
fig.text(793 / W, 1 - 266 / H, 'k', rotation=90, style='italic', fontsize=33, ha='center', va='center', color='#1c1a1a')
fig.text(793 / W, 1 - 748 / H, 'k', rotation=90, style='italic', fontsize=33, ha='center', va='center', color='#1c1a1a')
fig.text(524 / W, 1 - 525 / H, 'Time (ns)', ha='center', va='center', color='#1c1a1a')
for x in (524, 1096, 1630):
    fig.text(x / W, 1 - 1005 / H, 'Time (ps)', ha='center', va='center', color='#1c1a1a')

# logo, cut by the top edge
fig.text(1793 / W, 1 - 23 / H, 'LLE', ha='left', va='baseline', fontsize=38, color='#0d4fa3')
for x0, y0, x1, y1 in [(1899, 10, 1927, -1), (1912, 13, 1927, 2), (1915, 25, 1927, 8)]:
    fig.add_artist(Line2D([x0 / W, x1 / W], [1 - y0 / H, 1 - y1 / H], color='#0d4fa3', lw=2.6))

fig.savefig('out.png', dpi=100)
